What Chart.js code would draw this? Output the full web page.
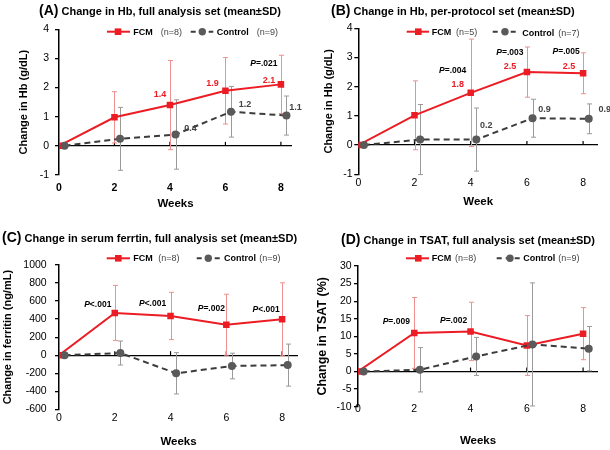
<!DOCTYPE html>
<html>
<head>
<meta charset="utf-8">
<script src="https://cdn.jsdelivr.net/npm/chart.js@4.4.1/dist/chart.umd.min.js"></script>
<style>
body{margin:0;background:#fff;font-family:"Liberation Sans",Arial,sans-serif}
#wrap{position:relative;width:610px;height:450px;background:#fff}
.panel{position:absolute;width:305px;height:225px}
.panel canvas{position:absolute;left:0;top:0}
.ttl{position:absolute;white-space:nowrap;font-weight:bold;font-size:11px;height:18px;line-height:18px;color:#000}
.ttl b{font-size:14px}
</style>
</head>
<body>
<div id="wrap">
<div class="panel" style="left:0;top:0"><canvas id="cA" width="305" height="225"></canvas><div class="ttl" style="left:39px;top:1px"><b>(A)</b> Change in Hb, full analysis set (mean±SD)</div></div>
<div class="panel" style="left:305px;top:0"><canvas id="cB" width="305" height="225"></canvas><div class="ttl" style="left:26px;top:1px"><b>(B)</b> Change in Hb, per-protocol set (mean±SD)</div></div>
<div class="panel" style="left:0;top:225px"><canvas id="cC" width="305" height="225"></canvas><div class="ttl" style="left:2px;top:3px"><b>(C)</b> Change in serum ferrtin, full analysis set (mean±SD)</div></div>
<div class="panel" style="left:305px;top:225px"><canvas id="cD" width="305" height="225"></canvas><div class="ttl" style="left:36px;top:5px"><b>(D)</b> Change in TSAT, full analysis set (mean±SD)</div></div>
</div>
<script>
const weeks=[0,2,4,6,8]
const CTL_SHIFT=0.2

// (A) Hb, full analysis set
const hbFcm=[0,0.98,1.40,1.89,2.11]
const hbFcmSd=[0,0.88,1.53,1.14,1.0]
const hbCtl=[0,0.24,0.39,1.17,1.04]
const hbCtlSd=[0,1.08,1.19,0.87,0.67]
const hbFcmLabels=["","","1.4","1.9","2.1"]
const hbCtlLabels=["","","0.4","1.2","1.1"]
const hbP=["","","","","P=.021"]

// (B) Hb, per-protocol set
const ppFcm=[0,1.02,1.79,2.50,2.46]
const ppFcmSd=[0,1.18,1.84,0.86,0.70]
const ppCtl=[0,0.19,0.19,0.92,0.90]
const ppCtlSd=[0,1.2,1.08,0.65,0.51]
const ppFcmLabels=["","","1.8","2.5","2.5"]
const ppCtlLabels=["","","0.2","0.9","0.9"]
const ppP=["","","P=.004","P=.003","P=.005"]

// (C) ferritin
const ferFcm=[0,468,435,338,398]
const ferFcmSd=[0,306,262,338,405]
const ferCtl=[0,24,-201,-120,-110]
const ferCtlSd=[0,133,229,142,233]
const ferP=["","P<.001","P<.001","P=.002","P<.001"]

// (D) TSAT
const tsFcm=[0,10.95,11.4,7.4,10.76]
const tsFcmSd=[0,10.1,8.3,8.5,7.4]
const tsCtl=[0,0.5,4.3,7.7,6.5]
const tsCtlSd=[0,6.3,5.4,17.5,6.3]
const tsP=["","P=.009","P=.002","",""]

const RED="#ec1c24"
const RED_ERR="#ef8f8f"
const DARK="#5a5a5a"
const LINE_DARK="#3c3c3c"
const GRAY_ERR="#9a9a9a"
const FONT='"Liberation Sans", Arial, sans-serif'

function drawLabel(ctx,text,cx,cy,size,color){
const parts=text.startsWith("P")?[{t:"P",it:true},{t:text.slice(1)}]:[{t:text}]
let w=0
parts.forEach(p=>{ctx.font=(p.it?"italic ":"")+"bold "+size+"px "+FONT;p.w=ctx.measureText(p.t).width;w+=p.w})
let x=cx-w/2
ctx.fillStyle=color
ctx.textAlign="left"
ctx.textBaseline="middle"
parts.forEach(p=>{ctx.font=(p.it?"italic ":"")+"bold "+size+"px "+FONT;ctx.fillText(p.t,x,cy);x+=p.w})
}

function decor(p){
return{
id:"decor",
beforeDatasetsDraw(chart){
const ctx=chart.ctx,xs=chart.scales.x,ys=chart.scales.y
ctx.save()
const y0=ys.getPixelForValue(0)
ctx.strokeStyle="#000"
ctx.lineWidth=1.2
weeks.forEach(w=>{
if(!w)return
const x=xs.getPixelForValue(w)
ctx.beginPath();ctx.moveTo(x,y0-4);ctx.lineTo(x,y0);ctx.stroke()
})
const sets=[[0,p.fcm,p.fcmSd,RED_ERR],[CTL_SHIFT,p.ctl,p.ctlSd,GRAY_ERR]]
sets.forEach(([sh,v,sd,c])=>{
ctx.strokeStyle=c
ctx.lineWidth=1
v.forEach((m,i)=>{
if(!sd[i])return
const x=Math.round(xs.getPixelForValue(weeks[i]+sh))+0.5
const yt=ys.getPixelForValue(m+sd[i]),yb=ys.getPixelForValue(m-sd[i])
ctx.beginPath()
ctx.moveTo(x,yt);ctx.lineTo(x,yb)
ctx.moveTo(x-2.5,yt);ctx.lineTo(x+2.5,yt)
ctx.moveTo(x-2.5,yb);ctx.lineTo(x+2.5,yb)
ctx.stroke()
})
})
ctx.restore()
},
afterDatasetsDraw(chart){
const ctx=chart.ctx,xs=chart.scales.x,ys=chart.scales.y
ctx.save()
p.notes.forEach(n=>{
const vals=n.set==="fcm"?p.fcm:p.ctl
const sh=n.set==="fcm"?0:CTL_SHIFT
n.texts.forEach((t,i)=>{
if(!t)return
const x=xs.getPixelForValue(weeks[i]+sh)+n.off[i][0]
const y=ys.getPixelForValue(vals[i])+n.off[i][1]
drawLabel(ctx,t,x,y,n.size,n.color)
})
})
ctx.restore()
},
afterDraw(chart){
const ctx=chart.ctx,L=p.legend
ctx.save()
ctx.lineWidth=2
ctx.strokeStyle=RED
ctx.beginPath();ctx.moveTo(L.fcmLine[0],L.y);ctx.lineTo(L.fcmLine[1],L.y);ctx.stroke()
ctx.fillStyle=RED
ctx.fillRect(L.fcmMark-3.3,L.y-3.3,6.6,6.6)
ctx.strokeStyle=LINE_DARK
ctx.setLineDash([5,4])
ctx.beginPath();ctx.moveTo(L.ctlLine[0],L.y);ctx.lineTo(L.ctlLine[1],L.y);ctx.stroke()
ctx.setLineDash([])
ctx.fillStyle=DARK
ctx.beginPath();ctx.arc(L.ctlMark,L.y,3.7,0,Math.PI*2);ctx.fill()
ctx.fillStyle="#000"
ctx.textAlign="left"
ctx.textBaseline="middle"
ctx.font="bold 9px "+FONT
ctx.fillText("FCM",L.fcmText,L.y+0.5)
ctx.fillText("Control",L.ctlText,L.y+L.ctlDy)
ctx.fillStyle="#444"
ctx.font="9px "+FONT
ctx.fillText(p.nFcm,L.fcmN,L.y+0.5)
ctx.fillText(p.nCtl,L.ctlN,L.y+L.ctlDy)
ctx.restore()
}
}
}

function makeChart(p){
const g=p.box
const tickHalf=10.5*1.2/2
const yTitleHalf=p.yTitleSize*1.2/2
const xTitleHalf=11.5*1.2/2
const pl=p.yTitleX-yTitleHalf
const yW=g.l-pl
const xSB=p.xTitleY+xTitleHalf
const xH=xSB-g.b
// labels that sit above the scale box are clipped, so mirror them there
let xPad=p.xTickY-g.b-tickHalf
let xMirror=false
if(xPad<0){xMirror=true;xPad=-(p.xTickY-g.b)-tickHalf}
return new Chart(document.getElementById(p.id),{
type:"line",
data:{datasets:[
{label:"FCM",data:weeks.map((w,i)=>({x:w,y:p.fcm[i]})),borderColor:RED,backgroundColor:RED,borderWidth:2,pointStyle:"rect",pointRadius:4.6,pointBorderWidth:0,order:2},
{label:"Control",data:weeks.map((w,i)=>({x:w+CTL_SHIFT,y:p.ctl[i]})),borderColor:LINE_DARK,backgroundColor:DARK,borderWidth:2,borderDash:[6,4],pointStyle:"circle",pointRadius:4,pointBorderWidth:0,order:1}
]},
options:{
responsive:false,
animation:false,
events:[],
layout:{padding:{left:pl,top:g.t,right:305-g.r,bottom:225-xSB}},
plugins:{legend:{display:false},tooltip:{enabled:false}},
scales:{
x:{type:"linear",min:0,max:p.xMax,
afterFit(s){s.height=xH},
grid:{display:false,drawTicks:false},
border:{display:false},
ticks:{stepSize:2,includeBounds:false,mirror:xMirror,padding:xPad,color:"#000",font:{family:FONT,size:10.5,weight:p.xBold?"bold":"normal"},callback:v=>String(v)},
title:{display:true,text:p.xTitle,color:"#000",padding:0,font:{family:FONT,size:11.5,weight:"bold"}}
},
y:{min:p.yMin,max:p.yMax,
afterFit(s){s.width=yW},
grid:{color:c=>c.tick&&c.tick.value===0?"#000":"rgba(0,0,0,0)",lineWidth:1.3,tickColor:"#000",tickLength:4},
border:{display:true,color:"#000",width:1.5},
ticks:{stepSize:p.yStep,padding:g.l-p.yTickRight-4,color:"#000",font:{family:FONT,size:10.5},callback:v=>String(v)},
title:{display:true,text:p.yTitle,color:"#000",padding:0,font:{family:FONT,size:p.yTitleSize,weight:"bold"}}
}
}
},
plugins:[decor(p)]
})
}

makeChart({
id:"cA",fcm:hbFcm,fcmSd:hbFcmSd,ctl:hbCtl,ctlSd:hbCtlSd,
yMin:-1,yMax:4,yStep:1,xMax:8.4,
yTitle:"Change in Hb (g/dL)",yTitleSize:11,xTitle:"Weeks",xBold:true,
box:{l:59,r:292,t:29.3,b:175},yTitleX:24,yTickRight:49,xTickY:187.7,xTitleY:204,
nFcm:"(n=8)",nCtl:"(n=9)",
legend:{y:31.7,ctlDy:0.5,fcmLine:[107,130],fcmMark:118,fcmText:133.3,fcmN:160.7,ctlLine:[190.7,213.3],ctlMark:202.3,ctlText:216.7,ctlN:256.7},
notes:[
{set:"fcm",texts:hbFcmLabels,off:[null,null,[-10,-11],[-13,-7],[-12,-4]],size:9,color:RED},
{set:"fcm",texts:hbP,off:[null,null,null,null,[-17,-21]],size:8.5,color:"#000"},
{set:"ctl",texts:hbCtlLabels,off:[null,null,[15,-6],[14,-7],[9,-8]],size:9,color:"#444"}
]
})

makeChart({
id:"cB",fcm:ppFcm,fcmSd:ppFcmSd,ctl:ppCtl,ctlSd:ppCtlSd,
yMin:-1,yMax:4,yStep:1,xMax:8.53,
yTitle:"Change in Hb (g/dL)",yTitleSize:11,xTitle:"Week",xBold:false,
box:{l:53.3,r:293,t:28.3,b:174.3},yTitleX:23.7,yTickRight:47.7,xTickY:183.3,xTitleY:202,
nFcm:"(n=5)",nCtl:"(n=7)",
legend:{y:31.7,ctlDy:2,fcmLine:[101.7,124],fcmMark:113.3,fcmText:126.7,fcmN:151,ctlLine:[187.7,212.3],ctlMark:200,ctlText:217.3,ctlN:253.3},
notes:[
{set:"fcm",texts:ppFcmLabels,off:[null,null,[-13,-8],[-17,-6],[-14,-7]],size:9,color:RED},
{set:"fcm",texts:ppP,off:[null,null,[-18,-22],[-17,-19],[-17,-22]],size:8.5,color:"#000"},
{set:"ctl",texts:ppCtlLabels,off:[null,null,[10,-14],[12,-9],[16,-9]],size:9,color:"#444"}
]
})

makeChart({
id:"cC",fcm:ferFcm,fcmSd:ferFcmSd,ctl:ferCtl,ctlSd:ferCtlSd,
yMin:-600,yMax:1000,yStep:200,xMax:8.57,
yTitle:"Change in ferritin (ng/mL)",yTitleSize:11,xTitle:"Weeks",xBold:false,
box:{l:59,r:298,t:40,b:184.3},yTitleX:7.7,yTickRight:46.7,xTickY:192.7,xTitleY:216.7,
nFcm:"(n=8)",nCtl:"(n=9)",
legend:{y:33.3,ctlDy:0.5,fcmLine:[106.7,130],fcmMark:118.3,fcmText:133.3,fcmN:158.3,ctlLine:[196.7,220],ctlMark:208.3,ctlText:224,ctlN:259.3},
notes:[
{set:"fcm",texts:ferP,off:[null,[-17,-8],[-18,-12],[-15,-16],[-16,-10]],size:8.5,color:"#000"}
]
})

makeChart({
id:"cD",fcm:tsFcm,fcmSd:tsFcmSd,ctl:tsCtl,ctlSd:tsCtlSd,
yMin:-10,yMax:30,yStep:5,xMax:8.53,
yTitle:"Change in TSAT (%)",yTitleSize:12.5,xTitle:"Weeks",xBold:false,
box:{l:53,r:293,t:41,b:181.7},yTitleX:17.7,yTickRight:46.7,xTickY:183.7,xTitleY:216,
nFcm:"(n=8)",nCtl:"(n=9)",
legend:{y:33.3,ctlDy:0.5,fcmLine:[101,124],fcmMark:113.3,fcmText:126.7,fcmN:150,ctlLine:[191.7,216.7],ctlMark:205,ctlText:218.3,ctlN:253.3},
notes:[
{set:"fcm",texts:tsP,off:[null,[-18,-11],[-17,-11],null,null],size:8.5,color:"#000"}
]
})
</script>
</body>
</html>
